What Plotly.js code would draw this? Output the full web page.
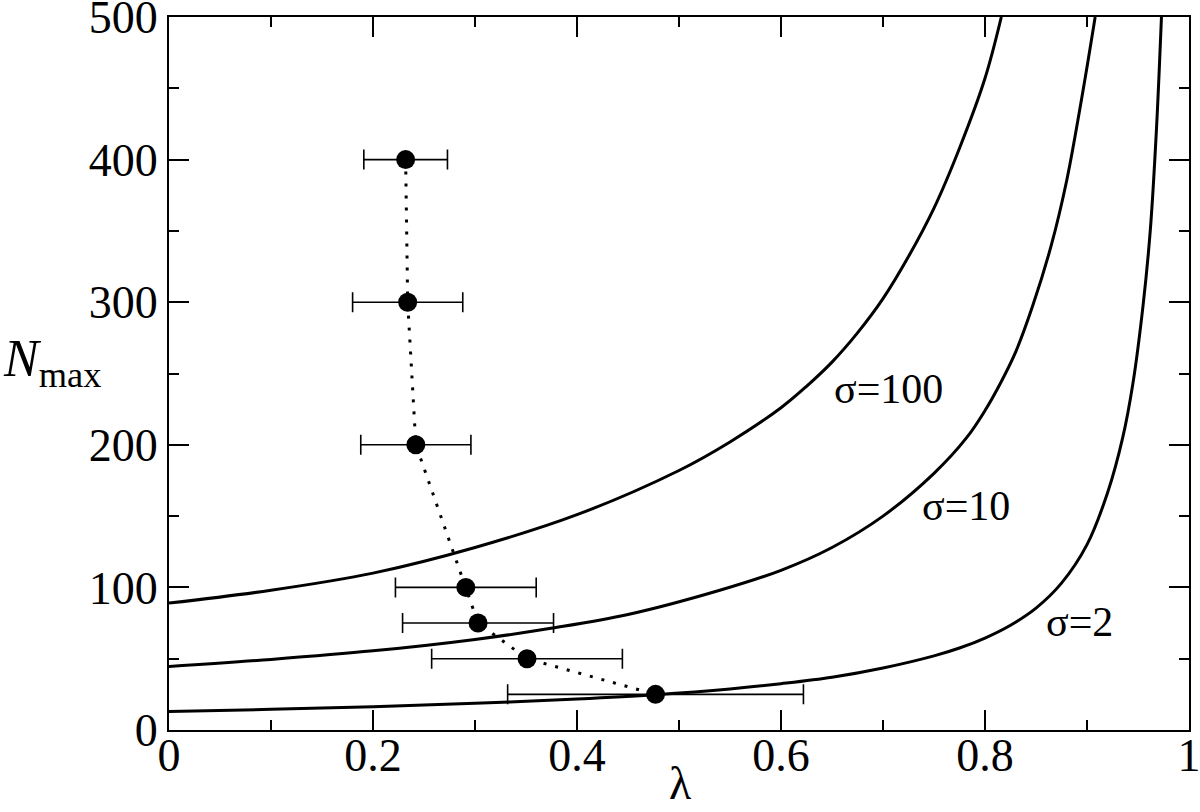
<!DOCTYPE html>
<html>
<head>
<meta charset="utf-8">
<script src="https://cdn.plot.ly/plotly-3.0.1.min.js"></script>
<style>html,body{margin:0;padding:0;background:#fff}#plot{width:1200px;height:812px}</style>
</head>
<body>
<div id="plot"></div>
<script>
// measured points: lambda for each N_max, symmetric error in lambda
const nMax = [400, 300, 200, 100, 75, 50, 25];
const lambdaVals = [0.232, 0.234, 0.242, 0.291, 0.303, 0.351, 0.477];
const lambdaErr = [0.041, 0.054, 0.054, 0.069, 0.074, 0.0935, 0.145];

// curves
const lam100 = [0, 0.1, 0.2, 0.3, 0.4, 0.5, 0.55, 0.6, 0.625, 0.65, 0.675, 0.7, 0.725, 0.75, 0.775, 0.8, 0.816];
const n100   = [89, 98, 110, 128, 151, 182, 202, 226, 241, 258, 278.5, 302.5, 332, 366, 408, 457, 500];

const lam10 = [0, 0.1, 0.2, 0.3, 0.376, 0.45, 0.54, 0.6, 0.65, 0.7, 0.75, 0.782, 0.8, 0.815, 0.83, 0.847, 0.865, 0.88, 0.896, 0.908];
const n10   = [44.5, 49.5, 55.5, 63.5, 71.5, 81, 98, 112, 128, 150, 180, 205, 224, 243, 265, 298, 340, 385, 448, 500];

const lam2 = [0, 0.1, 0.2, 0.3, 0.4, 0.4765, 0.55, 0.6, 0.65, 0.7, 0.75, 0.775, 0.8, 0.825, 0.85, 0.875, 0.9, 0.92, 0.935, 0.945, 0.955, 0.962, 0.968, 0.973];
const n2   = [13, 14.5, 16.3, 18.7, 21.8, 24.8, 28.8, 32.5, 37, 43.5, 52, 57.5, 64.5, 73.5, 85.5, 103, 130, 166, 205, 243, 298, 350, 420, 500];

const curveLabels = ['σ=100', 'σ=10', 'σ=2'];
const labelLam = [0.705, 0.781, 0.893];
const labelN = [239, 157, 76];

const xTicks = [0, 0.2, 0.4, 0.6, 0.8, 1];
const xTickText = ['0', '0.2', '0.4', '0.6', '0.8', '1'];
const yTicks = [0, 100, 200, 300, 400, 500];

const serif = 'Liberation Serif, Times New Roman, serif';

function curve(x, y) {
    return {
        x: x, y: y,
        mode: 'lines',
        line: {color: 'black', width: 3, shape: 'spline', smoothing: 1},
        hoverinfo: 'skip'
    };
}

const traces = [
    curve(lam100, n100),
    curve(lam10, n10),
    curve(lam2, n2),
    {
        x: lambdaVals, y: nMax,
        mode: 'lines+markers',
        line: {color: 'black', width: 3, dash: '3px,9px'},
        marker: {color: 'black', size: 19},
        error_x: {type: 'data', array: lambdaErr, color: 'black', thickness: 1.6, width: 10}
    }
];

const annotations = curveLabels.map((t, i) => ({
    x: labelLam[i], y: labelN[i], xref: 'x', yref: 'y',
    text: t, showarrow: false,
    font: {family: serif, size: 42, color: 'black'}
}));

annotations.push({
    xref: 'paper', yref: 'paper', x: -0.165, y: 0.515,
    xanchor: 'left', yanchor: 'middle',
    text: '<i>N</i><sub>max</sub>', showarrow: false,
    font: {family: serif, size: 52, color: 'black'}
});
annotations.push({
    xref: 'paper', yref: 'paper', x: 0.501, y: -0.037,
    xanchor: 'center', yanchor: 'top',
    text: 'λ', showarrow: false,
    font: {family: serif, size: 46, color: 'black'}
});

const axisCommon = {
    showline: true, linewidth: 2, linecolor: 'black', mirror: 'allticks',
    ticks: 'inside', ticklen: 20, tickwidth: 2, tickcolor: 'black',
    showgrid: false, zeroline: false, ticklabeloverflow: 'allow',
    tickfont: {family: serif, size: 46, color: 'black'}
};

const layout = {
    width: 1200, height: 812,
    margin: {l: 169, r: 11, t: 17, b: 82},
    paper_bgcolor: 'white', plot_bgcolor: 'white',
    showlegend: false,
    xaxis: Object.assign({}, axisCommon, {
        range: [0, 1], tickvals: xTicks, ticktext: xTickText, ticklabelstandoff: -16,
        minor: {tickvals: [0.1, 0.3, 0.5, 0.7, 0.9], ticks: 'inside', ticklen: 10, tickwidth: 2, tickcolor: 'black'}
    }),
    yaxis: Object.assign({}, axisCommon, {
        range: [0, 500], tickvals: yTicks,
        minor: {tickvals: [50, 150, 250, 350, 450], ticks: 'inside', ticklen: 10, tickwidth: 2, tickcolor: 'black'}
    }),
    annotations: annotations
};

Plotly.newPlot('plot', traces, layout, {displayModeBar: false, staticPlot: true});
</script>
</body>
</html>
